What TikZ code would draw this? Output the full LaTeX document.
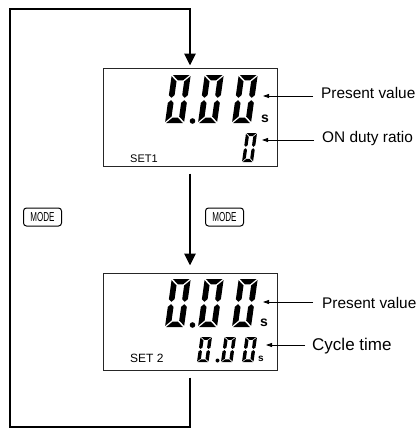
\documentclass[tikz,border=0pt]{standalone}
\usepackage{fontspec}
\setmainfont{Liberation Sans}
\usetikzlibrary{arrows.meta}

\newcommand{\segzero}[4]{%
  \begin{scope}[shift={(#1,#2)},x={(#3pt,0pt)},y={({0.07*#4pt},{0.5*#4pt})}]
    \fill (0.06,2) -- (0.94,2) -- (0.64,1.78) -- (0.36,1.78) -- cycle
          (0.06,0) -- (0.94,0) -- (0.64,0.22) -- (0.36,0.22) -- cycle
          (0,1.95) -- (0.3,1.73) -- (0.3,1.16) -- (0.15,1.05) -- (0,1.16) -- cycle
          (0,0.05) -- (0.3,0.27) -- (0.3,0.84) -- (0.15,0.95) -- (0,0.84) -- cycle
          (1,1.95) -- (0.7,1.73) -- (0.7,1.16) -- (0.85,1.05) -- (1,1.16) -- cycle
          (1,0.05) -- (0.7,0.27) -- (0.7,0.84) -- (0.85,0.95) -- (1,0.84) -- cycle;
  \end{scope}}

\begin{document}
\begin{tikzpicture}[x=1pt,y=-1pt,
  lcd/.style={draw=black!85,line width=1pt,minimum width=174pt,minimum height=98pt,inner sep=0pt},
  loopline/.style={line width=2.8pt,-{Triangle[length=12pt,width=11pt]}},
  callout/.style={line width=0.8pt,-{Triangle[length=6pt,width=4pt]}},
  tag/.style={font=\fontsize{15.4}{18}\selectfont,inner sep=0pt,anchor=base west},
  settag/.style={font=\fontsize{11}{13}\selectfont,inner sep=0pt,anchor=base west},
  modekey/.style={draw,rounded corners=3pt,line width=1pt,minimum width=38pt,minimum height=18pt,inner sep=0pt,font=\fontsize{13}{15}\selectfont},
  unit/.style={font=\bfseries\fontsize{14}{16}\selectfont,inner sep=0pt}]
\useasboundingbox (0,0) rectangle (418,429);

\node[lcd] (disp1) at (190,117) {};
\node[lcd,minimum height=97pt] (disp2) at (190,321.5) {};
\coordinate (cornerTL) at (10,9);
\coordinate (cornerBL) at (10,427);

\draw[loopline,shorten <=7pt,shorten >=2pt] (disp2.south) |- (cornerBL) -- (cornerTL) -| (disp1.north);
\draw[loopline,shorten <=7pt,shorten >=7pt] (disp1.south) -- (disp2.north);

\node[modekey] (modeL) at (42.5,217) {\scalebox{0.62}[1]{MODE}};
\node[modekey] (modeR) at (224.5,217) {\scalebox{0.62}[1]{MODE}};

\segzero{165}{123}{19}{48}
\segzero{198}{123}{19}{48}
\segzero{232}{123}{19}{48}
\fill (192.5,121) circle (2.8pt);
\node[unit] (unitA) at (265,119) {s};
\segzero{242}{162}{11}{29}
\node[settag] (setA) at (130,162) {SET1};

\segzero{165}{327}{19}{48}
\segzero{198}{327}{19}{48}
\segzero{232}{327}{19}{48}
\fill (192.5,325) circle (2.8pt);
\node[unit] (unitB) at (264,323) {s};
\segzero{197}{362}{11.5}{25}
\segzero{221}{362}{11.5}{25}
\segzero{242}{362}{11.5}{25}
\fill (217.5,360.5) circle (2pt);
\node[unit,font=\bfseries\fontsize{10}{12}\selectfont] (unitC) at (261,359) {s};
\node[settag,font=\fontsize{12}{14}\selectfont] (setB) at (130,362) {SET 2};

\coordinate (tipA) at (263,96);
\coordinate (tipB) at (262,140);
\coordinate (tipC) at (263,302);
\coordinate (tipD) at (266,345);
\node[tag] (pvA) at (321,98) {Present value};
\node[tag] (dutyA) at (322,142) {ON duty ratio};
\node[tag] (pvB) at (322,308) {Present value};
\node[tag,font=\fontsize{17}{20}\selectfont] (cycB) at (312,350) {Cycle time};
\draw[callout] (tipA -| pvA.west) ++(-8,0) -- (tipA);
\draw[callout] (tipB -| dutyA.west) ++(-8,0) -- (tipB);
\draw[callout] (tipC -| pvB.west) ++(-9,0) -- (tipC);
\draw[callout] (tipD -| cycB.west) ++(-7,0) -- (tipD);
\end{tikzpicture}
\end{document}
